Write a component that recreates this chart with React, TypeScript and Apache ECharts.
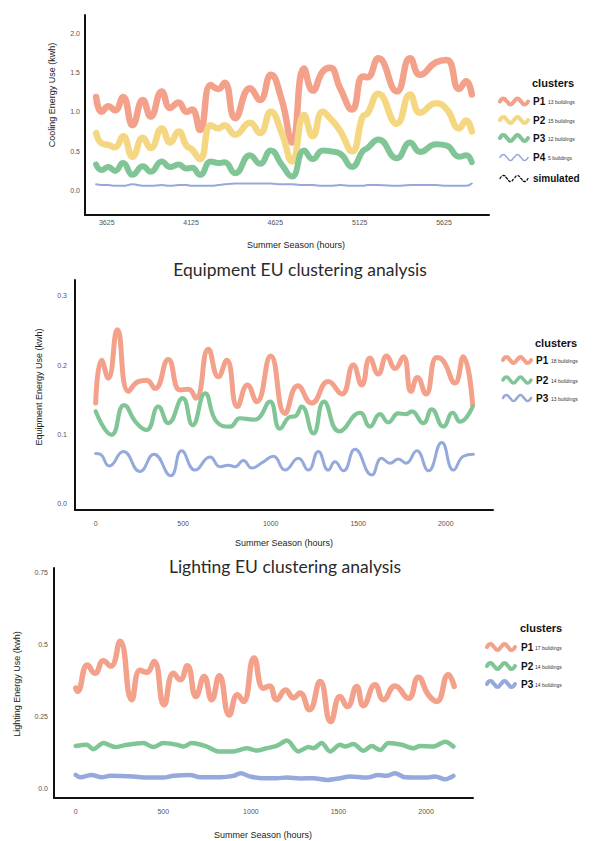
import React, { useEffect, useRef } from "react";
import * as echarts from "echarts";

// ---------- Cooling panel ----------
const COOL_HOURS = [3562,3595,3635,3674,3722,3778,3839,3886,3951,4001,4051,4098,4131,4178,4242,4287,4324,4386,4475,4534,4598,4663,4724,4795,4847,4905,4949,5009,5080,5143,5171,5236,5345,5424,5483,5578,5642,5715,5756,5790];
const COOL_P1 = [1.19,1.00,1.07,1.02,1.19,0.83,1.15,0.94,1.26,1.05,1.12,1.00,1.03,0.77,1.34,1.29,1.37,0.92,1.30,1.15,1.47,1.15,0.61,1.55,1.27,1.51,1.56,1.30,1.03,1.45,1.44,1.68,1.26,1.68,1.47,1.63,1.66,1.29,1.39,1.22];
const COOL_P2 = [0.73,0.60,0.58,0.55,0.69,0.43,0.67,0.54,0.79,0.61,0.75,0.57,0.52,0.40,0.83,0.79,0.83,0.71,0.86,0.73,1.00,0.73,0.37,0.96,0.69,1.00,0.92,0.76,0.50,0.94,0.98,1.23,0.85,1.22,0.99,1.11,1.03,0.79,0.89,0.75];
const COOL_P3 = [0.33,0.26,0.30,0.25,0.35,0.20,0.31,0.24,0.37,0.30,0.33,0.28,0.29,0.20,0.37,0.35,0.36,0.22,0.45,0.34,0.51,0.33,0.18,0.51,0.40,0.51,0.50,0.47,0.30,0.50,0.54,0.65,0.41,0.61,0.49,0.59,0.57,0.43,0.45,0.36];
const COOL_P4 = [0.08,0.07,0.07,0.06,0.06,0.08,0.06,0.06,0.07,0.06,0.07,0.07,0.06,0.06,0.06,0.07,0.08,0.09,0.09,0.09,0.09,0.08,0.08,0.07,0.07,0.06,0.06,0.07,0.06,0.06,0.07,0.07,0.06,0.07,0.07,0.07,0.06,0.06,0.06,0.09];
const COOL_X_TICKS = [3625, 4125, 4625, 5125, 5625];
const COOL_Y_TICKS = [0, 0.5, 1, 1.5, 2];
const COOL_LEGEND = [
  { name: "P1", note: "13 buildings" },
  { name: "P2", note: "15 buildings" },
  { name: "P3", note: "12 buildings" },
  { name: "P4", note: "5 buildings" },
];

// ---------- Equipment panel ----------
const EQ_P1_H = [0,34,72,124,187,244,291,339,415,482,530,573,644,701,749,810,867,920,1000,1082,1155,1234,1329,1406,1472,1520,1567,1614,1663,1710,1758,1802,1838,1887,1948,1986,2053,2100,2154];
const EQ_P1 = [0.145,0.207,0.181,0.251,0.162,0.176,0.178,0.166,0.208,0.164,0.165,0.152,0.223,0.183,0.207,0.140,0.171,0.147,0.213,0.130,0.170,0.145,0.176,0.158,0.200,0.171,0.210,0.187,0.213,0.195,0.212,0.162,0.182,0.158,0.211,0.206,0.174,0.212,0.142];
const EQ_P2_H = [0,91,162,234,291,358,415,497,554,625,691,768,825,901,930,996,1053,1110,1140,1177,1244,1304,1392,1510,1567,1624,1672,1729,1773,1805,1872,1920,1986,2040,2082,2154];
const EQ_P2 = [0.133,0.099,0.142,0.116,0.106,0.140,0.116,0.152,0.113,0.159,0.118,0.111,0.123,0.121,0.123,0.147,0.108,0.125,0.126,0.140,0.101,0.147,0.104,0.131,0.111,0.129,0.117,0.130,0.129,0.133,0.116,0.136,0.111,0.131,0.118,0.140];
const EQ_P3_H = [0,25,78,158,253,333,429,491,568,653,711,758,796,844,892,958,1015,1082,1158,1215,1272,1329,1367,1415,1482,1577,1634,1682,1729,1773,1834,1901,1977,2044,2101,2158];
const EQ_P3 = [0.072,0.071,0.054,0.075,0.046,0.071,0.040,0.076,0.048,0.067,0.053,0.055,0.053,0.062,0.051,0.060,0.068,0.048,0.065,0.048,0.075,0.048,0.060,0.047,0.078,0.041,0.065,0.058,0.064,0.058,0.076,0.047,0.088,0.048,0.068,0.071];
const EQ_X_TICKS = [0, 500, 1000, 1500, 2000];
const EQ_Y_TICKS = [0, 0.1, 0.2, 0.3];
const EQ_LEGEND = [
  { name: "P1", note: "18 buildings" },
  { name: "P2", note: "14 buildings" },
  { name: "P3", note: "13 buildings" },
];

// ---------- Lighting panel ----------
const LI_P1_H = [0,10,67,110,158,200,253,320,367,405,447,504,558,596,637,687,733,776,820,877,923,957,1018,1071,1106,1147,1198,1243,1280,1334,1395,1456,1509,1551,1604,1642,1709,1757,1823,1899,1956,2013,2061,2127,2161];
const LI_P1 = [0.348,0.337,0.429,0.400,0.443,0.424,0.511,0.308,0.410,0.403,0.441,0.290,0.400,0.377,0.426,0.319,0.389,0.308,0.391,0.255,0.325,0.302,0.453,0.348,0.356,0.308,0.342,0.315,0.331,0.273,0.371,0.232,0.319,0.284,0.354,0.287,0.360,0.308,0.356,0.313,0.386,0.325,0.302,0.395,0.354];
const LI_P2_H = [0,63,101,158,225,291,386,443,500,577,615,662,748,815,900,976,1033,1090,1147,1206,1271,1328,1357,1404,1452,1509,1538,1585,1642,1690,1738,1785,1861,1928,1966,2042,2109,2156];
const LI_P2 = [0.147,0.151,0.136,0.157,0.143,0.151,0.157,0.143,0.157,0.151,0.145,0.157,0.145,0.128,0.128,0.139,0.131,0.139,0.147,0.166,0.128,0.143,0.139,0.157,0.128,0.151,0.145,0.154,0.130,0.147,0.133,0.157,0.151,0.139,0.147,0.145,0.162,0.145];
const LI_P3_H = [0,25,91,148,196,329,405,500,558,653,710,824,900,942,995,1071,1147,1205,1281,1357,1433,1509,1566,1661,1728,1776,1823,1880,2004,2052,2109,2156];
const LI_P3 = [0.046,0.038,0.046,0.038,0.043,0.041,0.037,0.037,0.043,0.046,0.038,0.038,0.043,0.052,0.041,0.035,0.035,0.037,0.034,0.035,0.029,0.035,0.041,0.037,0.046,0.043,0.052,0.038,0.037,0.041,0.031,0.043];
const LI_X_TICKS = [0, 500, 1000, 1500, 2000];
const LI_Y_TICKS = [0, 0.25, 0.5, 0.75];
const LI_LEGEND = [
  { name: "P1", note: "17 buildings" },
  { name: "P2", note: "14 buildings" },
  { name: "P3", note: "14 buildings" },
];

const RED = "#F4A18B";
const YELLOW = "#F5D781";
const GREEN = "#80C596";
const BLUE = "#95A9DC";

const FONT = "Liberation Sans";
const TITLE_FONT = "Lato";

const zip = (xs: number[], ys: number[]) => xs.map((x, i) => [x, ys[i]]);

function xAxis(gridIndex: number, min: number, max: number, ticks: number[], margin: number) {
  return {
    type: "value",
    gridIndex,
    min,
    max,
    axisLine: { show: true, onZero: false, lineStyle: { color: "#111", width: 2 } },
    axisTick: { show: false },
    splitLine: { show: false },
    axisLabel: {
      customValues: ticks,
      margin,
      fontSize: 7,
      color: "#555",
      fontFamily: FONT,
      formatter: (v: number) => String(Math.round(v)),
    },
  };
}

function yAxis(gridIndex: number, min: number, max: number, ticks: number[], margin: number, fmt: (v: number) => string) {
  return {
    type: "value",
    gridIndex,
    min,
    max,
    axisLine: { show: true, onZero: false, lineStyle: { color: "#111", width: 2 } },
    axisTick: { show: false },
    splitLine: { show: false },
    axisLabel: { customValues: ticks, margin, fontSize: 7, color: "#555", fontFamily: FONT, formatter: fmt },
  };
}

function line(idx: number, data: number[][], color: string, width: number, smooth: number | boolean = true) {
  return {
    type: "line",
    xAxisIndex: idx,
    yAxisIndex: idx,
    data,
    smooth,
    showSymbol: false,
    symbol: "none",
    lineStyle: { color, width, cap: "round", join: "round" },
    itemStyle: { color },
  };
}

function wavePoints(x: number, y: number, w: number, amp: number) {
  const pts: number[][] = [];
  const steps = 8;
  for (let i = 0; i <= steps; i++) {
    const dy = i % 2 === 0 ? 0 : (i % 4 === 1 ? -amp : amp);
    pts.push([x + (w * i) / steps, y + dy]);
  }
  return pts;
}

function legendBlock(
  titleX: number,
  titleY: number,
  iconX: number,
  labelX: number,
  noteX: number,
  rows: { name: string; note: string; y: number; color: string; width: number; dash?: boolean }[]
) {
  const els: any[] = [
    {
      type: "text",
      x: titleX,
      y: titleY,
      style: { text: "clusters", font: `bold 11px "${FONT}"`, fill: "#111", verticalAlign: "middle" },
    },
  ];
  rows.forEach((r) => {
    els.push({
      type: "polyline",
      shape: { points: wavePoints(iconX, r.y, 28, 3), smooth: 0.6 },
      style: {
        stroke: r.color,
        lineWidth: r.width,
        fill: null,
        lineCap: "round",
        lineDash: r.dash ? [2, 2] : null,
      },
    });
    els.push({
      type: "text",
      x: labelX,
      y: r.y,
      style: { text: r.name, font: `bold 10px "${FONT}"`, fill: "#111", verticalAlign: "middle" },
    });
    if (r.note) {
      els.push({
        type: "text",
        x: noteX,
        y: r.y + 0.5,
        style: { text: r.note, font: `5px "${FONT}"`, fill: "#333", verticalAlign: "middle" },
      });
    }
  });
  return els;
}

function textAt(text: string, x: number, y: number, size: number, rotate = false, family = FONT, color = "#222") {
  return {
    type: "text",
    x,
    y,
    rotation: rotate ? Math.PI / 2 : 0,
    style: {
      text,
      font: `${size}px "${family}"`,
      fill: color,
      align: "center",
      verticalAlign: "middle",
    },
  };
}

export default function App() {
  const ref = useRef<HTMLDivElement>(null);
  useEffect(() => {
    if (!ref.current) return;
    const chart = echarts.init(ref.current, null, { renderer: "svg" });
    const fmt1 = (v: number) => v.toFixed(1);
    const fmtL = (v: number) => (v === 0 ? "0.0" : String(v));

    const coolColors = [RED, YELLOW, GREEN, BLUE];
    const coolWidths = [6.5, 6.5, 6, 2];

    const graphics: any[] = [
      textAt("Equipment EU clustering analysis", 300, 269, 17.5, false, TITLE_FONT, "#2a2a2a"),
      textAt("Lighting EU clustering analysis", 285, 566, 17.5, false, TITLE_FONT, "#2a2a2a"),
      textAt("Cooling Energy Use (kwh)", 52, 95, 9, true),
      textAt("Equipment Energy Use (kwh)", 39, 387, 9, true),
      textAt("Lighting Energy Use (kwh)", 17, 684, 9, true),
      textAt("Summer Season (hours)", 296, 245, 9),
      textAt("Summer Season (hours)", 284, 543, 9),
      textAt("Summer Season (hours)", 263, 835, 9),
      ...legendBlock(532, 83, 500, 533, 548, [
        ...COOL_LEGEND.map((l, i) => ({
          name: l.name,
          note: l.note,
          y: [101.5, 120, 138, 157.5][i],
          color: coolColors[i],
          width: i === 3 ? 1.6 : 4,
        })),
        { name: "simulated", note: "", y: 178.5, color: "#111", width: 1.3, dash: true },
      ]),
      ...legendBlock(535, 343, 503, 536, 551, EQ_LEGEND.map((l, i) => ({
        name: l.name,
        note: l.note,
        y: [360, 380, 398][i],
        color: [RED, GREEN, BLUE][i],
        width: [4, 3.5, 2.5][i],
      }))),
      ...legendBlock(520, 628, 487, 521, 535, LI_LEGEND.map((l, i) => ({
        name: l.name,
        note: l.note,
        y: [647, 666, 684][i],
        color: [RED, GREEN, BLUE][i],
        width: 4,
      }))),
    ];

    const option: any = {
      animation: false,
      backgroundColor: "#fff",
      grid: [
        { left: 85, top: 15, width: 404, height: 200 },
        { left: 75, top: 280, width: 418, height: 230 },
        { left: 54, top: 568, width: 419, height: 230 },
      ],
      xAxis: [
        xAxis(0, 3496, 5892, COOL_X_TICKS, 4),
        xAxis(1, -118, 2270, EQ_X_TICKS, 10),
        xAxis(2, -124, 2268, LI_X_TICKS, 10),
      ],
      yAxis: [
        yAxis(0, -0.31, 2.23, COOL_Y_TICKS, 5, fmt1),
        yAxis(1, -0.0097, 0.323, EQ_Y_TICKS, 8, fmt1),
        yAxis(2, -0.034, 0.766, LI_Y_TICKS, 6, fmtL),
      ],
      series: [
        line(0, zip(COOL_HOURS, COOL_P1), coolColors[0], coolWidths[0]),
        line(0, zip(COOL_HOURS, COOL_P2), coolColors[1], coolWidths[1]),
        line(0, zip(COOL_HOURS, COOL_P3), coolColors[2], coolWidths[2]),
        line(0, zip(COOL_HOURS, COOL_P4), coolColors[3], coolWidths[3]),
        line(1, zip(EQ_P1_H, EQ_P1), RED, 5),
        line(1, zip(EQ_P2_H, EQ_P2), GREEN, 4.2),
        line(1, zip(EQ_P3_H, EQ_P3), BLUE, 3),
        line(2, zip(LI_P1_H, LI_P1), RED, 5.5),
        line(2, zip(LI_P2_H, LI_P2), GREEN, 4.5, 0.3),
        line(2, zip(LI_P3_H, LI_P3), BLUE, 4.5, 0.3),
      ],
      graphic: graphics,
    };
    chart.setOption(option);
    return () => chart.dispose();
  }, []);
  return (
    <div
      ref={ref}
      style={{ position: "absolute", left: 0, top: 0, width: 597, height: 841, background: "#fff" }}
    />
  );
}
